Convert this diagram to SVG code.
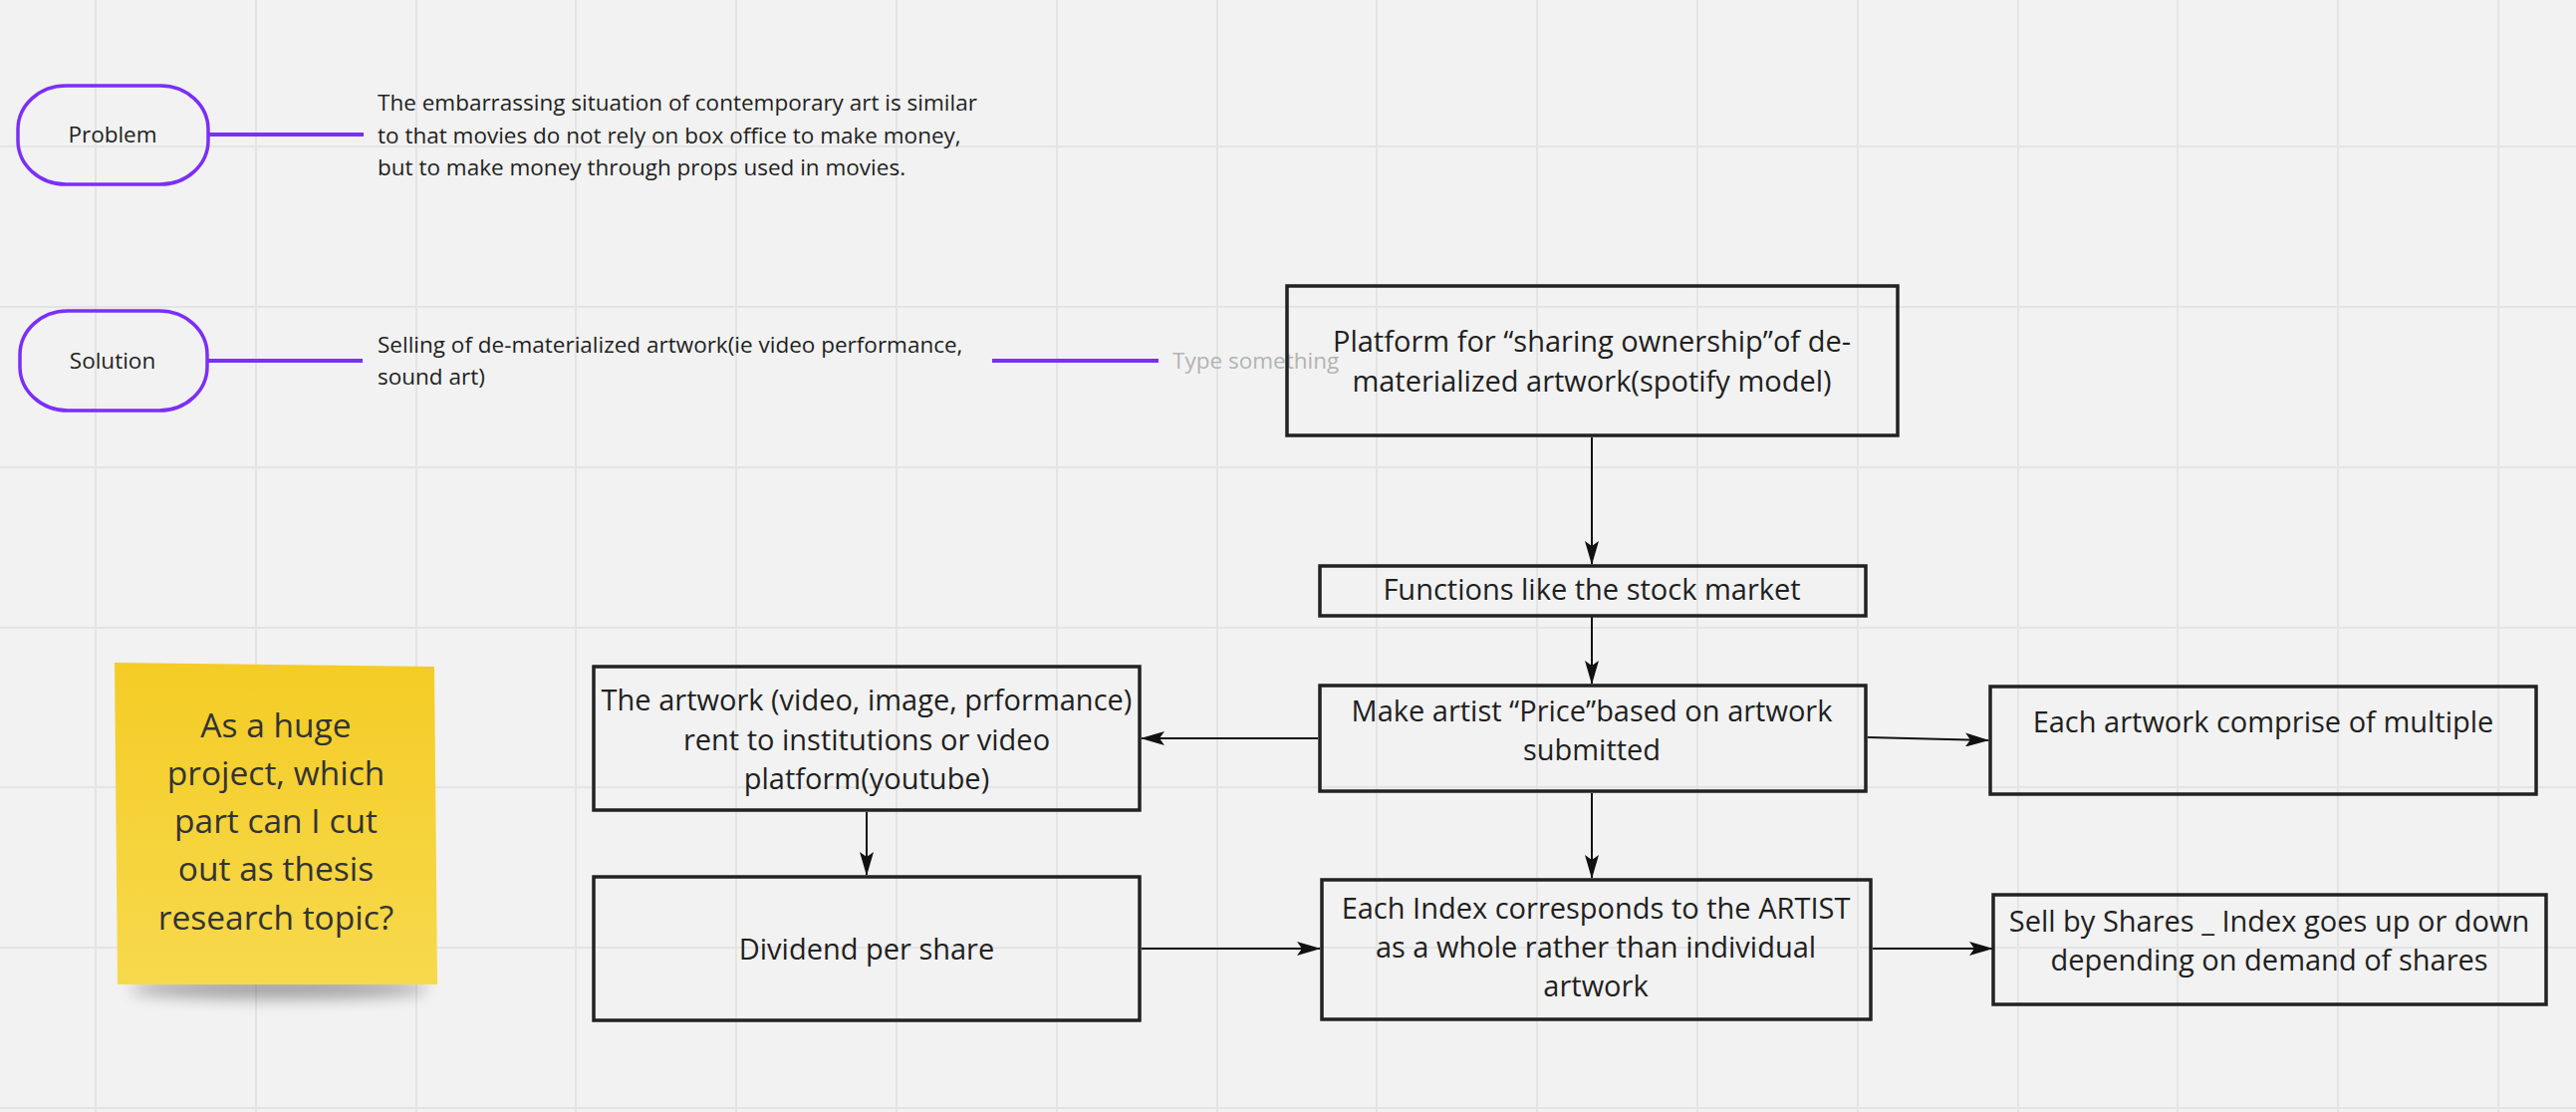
<svg xmlns="http://www.w3.org/2000/svg" width="2586" height="1116" viewBox="0 0 2586 1116">
<defs>
<style>
.grid line{stroke:#e4e4e4;stroke-width:2}
.pill{fill:none;stroke:#7b2ff7;stroke-width:3.5}
.pline{stroke:#7b2ff7;stroke-width:4;fill:none}
.box{fill:none;stroke:#222;stroke-width:3.5}
.t{font-family:"Open Sans","Noto Sans",sans-serif;fill:#1f1f1f}
.s21{font-size:22.5px}
.s27{font-size:29px}
.c{text-anchor:middle}
.st{font-size:33.5px;fill:#333}
.conn{stroke:#111;stroke-width:2;fill:none;marker-end:url(#ah)}
</style>
<marker id="ah" viewBox="0 0 24 14" refX="23" refY="7" markerWidth="24" markerHeight="14" markerUnits="userSpaceOnUse" orient="auto">
<path d="M0,0 L24,7 L0,14 L5,7 Z" fill="#111"/>
</marker>
<linearGradient id="sticky" x1="0" y1="0" x2="0" y2="1">
<stop offset="0" stop-color="#f4cc25"/>
<stop offset="1" stop-color="#f7d94d"/>
</linearGradient>
<filter id="blur" x="-20%" y="-100%" width="140%" height="300%">
<feGaussianBlur stdDeviation="8"/>
</filter>
</defs>
<rect x="0" y="0" width="2586" height="1116" fill="#f2f2f2"/>
<g class="grid">
<line x1="96" y1="0" x2="96" y2="1116"/>
<line x1="257" y1="0" x2="257" y2="1116"/>
<line x1="418" y1="0" x2="418" y2="1116"/>
<line x1="578" y1="0" x2="578" y2="1116"/>
<line x1="739" y1="0" x2="739" y2="1116"/>
<line x1="900" y1="0" x2="900" y2="1116"/>
<line x1="1061" y1="0" x2="1061" y2="1116"/>
<line x1="1222" y1="0" x2="1222" y2="1116"/>
<line x1="1382" y1="0" x2="1382" y2="1116"/>
<line x1="1543" y1="0" x2="1543" y2="1116"/>
<line x1="1704" y1="0" x2="1704" y2="1116"/>
<line x1="1865" y1="0" x2="1865" y2="1116"/>
<line x1="2026" y1="0" x2="2026" y2="1116"/>
<line x1="2186" y1="0" x2="2186" y2="1116"/>
<line x1="2347" y1="0" x2="2347" y2="1116"/>
<line x1="2508" y1="0" x2="2508" y2="1116"/>
<line x1="0" y1="147" x2="2586" y2="147"/>
<line x1="0" y1="308" x2="2586" y2="308"/>
<line x1="0" y1="469" x2="2586" y2="469"/>
<line x1="0" y1="630" x2="2586" y2="630"/>
<line x1="0" y1="790" x2="2586" y2="790"/>
<line x1="0" y1="951" x2="2586" y2="951"/>
<line x1="0" y1="1112" x2="2586" y2="1112"/>
</g>

<g id="connectors">
<line class="pline" x1="209" y1="135" x2="365" y2="135"/>
<line class="pline" x1="208" y1="362" x2="364" y2="362"/>
<line class="pline" x1="996" y1="362" x2="1163" y2="362"/>
<line class="conn" x1="1598" y1="439" x2="1598" y2="566"/>
<line class="conn" x1="1598" y1="619" x2="1598" y2="686"/>
<line class="conn" x1="1323" y1="741" x2="1146" y2="741"/>
<line class="conn" x1="1875" y1="740" x2="1996" y2="743"/>
<line class="conn" x1="870" y1="815" x2="870" y2="878"/>
<line class="conn" x1="1598" y1="796" x2="1598" y2="881"/>
<line class="conn" x1="1146" y1="952" x2="1325" y2="952"/>
<line class="conn" x1="1880" y1="952" x2="2000" y2="952"/>
</g>

<g id="problem">
<rect class="pill" x="18" y="86" width="191" height="99" rx="48" ry="44"/>
<text class="t s21 c" x="113" y="143">Problem</text>
</g>
<g id="problem-text">
<text class="t s21" x="379" y="111">The embarrassing situation of contemporary art is similar</text>
<text class="t s21" x="379" y="144">to that movies do not rely on box office to make money,</text>
<text class="t s21" x="379" y="176">but to make money through props used in movies.</text>
</g>

<g id="solution">
<rect class="pill" x="20" y="312" width="188" height="100" rx="48" ry="44"/>
<text class="t s21 c" x="113" y="370">Solution</text>
</g>
<g id="solution-text">
<text class="t s21" x="379" y="354">Selling of de-materialized artwork(ie video performance,</text>
<text class="t s21" x="379" y="386">sound art)</text>
</g>
<g id="type-something">
<text class="t s21" x="1177" y="370" style="fill:#b3b3b3">Type something</text>
</g>

<g id="platform">
<rect class="box" x="1292" y="287" width="613" height="150"/>
<text class="t s27 c" x="1598" y="353">Platform for “sharing ownership”of de-</text>
<text class="t s27 c" x="1598" y="393">materialized artwork(spotify model)</text>
</g>

<g id="functions">
<rect class="box" x="1325" y="568" width="548" height="50"/>
<text class="t s27 c" x="1598" y="602">Functions like the stock market</text>
</g>

<g id="make-price">
<rect class="box" x="1325" y="688" width="548" height="106"/>
<text class="t s27 c" x="1598" y="724">Make artist “Price”based on artwork</text>
<text class="t s27 c" x="1598" y="763">submitted</text>
</g>

<g id="artwork-rent">
<rect class="box" x="596" y="669" width="548" height="144"/>
<text class="t s27 c" x="870" y="713">The artwork (video, image, prformance)</text>
<text class="t s27 c" x="870" y="753">rent to institutions or video</text>
<text class="t s27 c" x="870" y="792">platform(youtube)</text>
</g>

<g id="dividend">
<rect class="box" x="596" y="880" width="548" height="144"/>
<text class="t s27 c" x="870" y="963">Dividend per share</text>
</g>

<g id="index">
<rect class="box" x="1327" y="883" width="551" height="140"/>
<text class="t s27 c" x="1602" y="922">Each Index corresponds to the ARTIST</text>
<text class="t s27 c" x="1602" y="961">as a whole rather than individual</text>
<text class="t s27 c" x="1602" y="1000">artwork</text>
</g>

<g id="each-artwork">
<rect class="box" x="1998" y="689" width="548" height="108"/>
<text class="t s27 c" x="2272" y="735">Each artwork comprise of multiple</text>
</g>

<g id="sell-shares">
<rect class="box" x="2001" y="898" width="555" height="110"/>
<text class="t s27 c" x="2278" y="935">Sell by Shares _ Index goes up or down</text>
<text class="t s27 c" x="2278" y="974">depending on demand of shares</text>
</g>

<g id="sticky">
<ellipse cx="280" cy="992" rx="150" ry="10" fill="#000" opacity="0.35" filter="url(#blur)"/>
<polygon points="115,665 436,669 439,988 118,988" fill="url(#sticky)"/>
<text class="t c st" x="277" y="740">As a huge</text>
<text class="t c st" x="277" y="788">project, which</text>
<text class="t c st" x="277" y="836">part can I cut</text>
<text class="t c st" x="277" y="884">out as thesis</text>
<text class="t c st" x="277" y="933">research topic?</text>
</g>
</svg>
